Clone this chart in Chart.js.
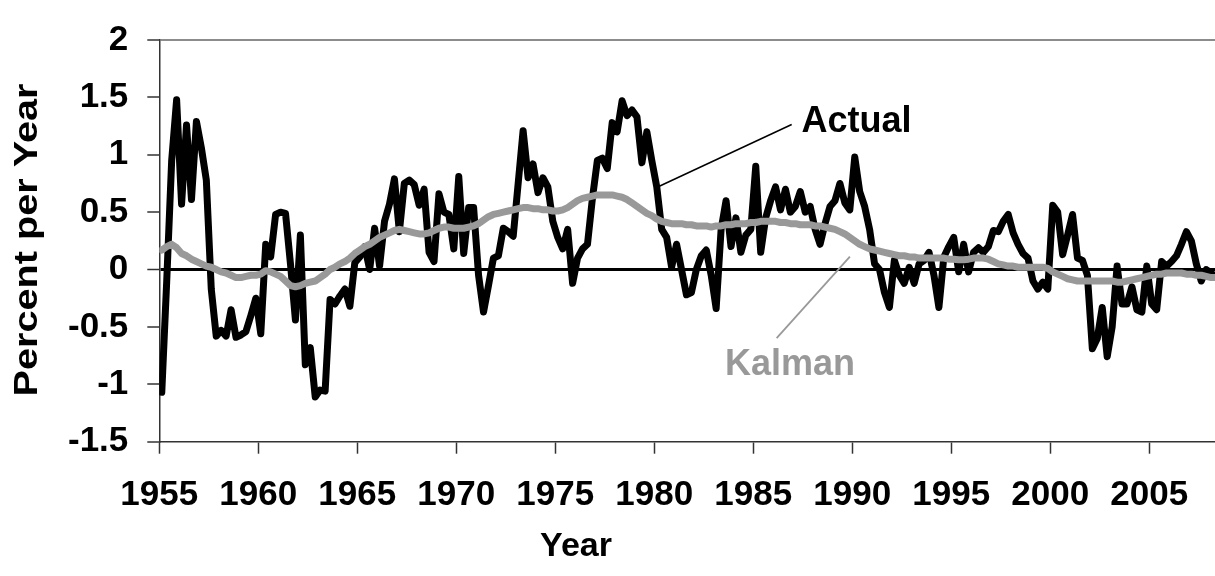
<!DOCTYPE html>
<html>
<head>
<meta charset="utf-8">
<script src="https://cdn.jsdelivr.net/npm/chart.js@4.4.1/dist/chart.umd.min.js"></script>
<style>
  html, body { margin: 0; padding: 0; background: #ffffff; }
  canvas { display: block; }
</style>
</head>
<body>
<canvas id="chart" width="1215" height="576"></canvas>
<script>
// Quarterly series, first quarter of 1955 onward
const firstYear = 1955;
const axisEndYear = 2008.32;

const yearTicks = [1955, 1960, 1965, 1970, 1975, 1980, 1985, 1990, 1995, 2000, 2005];
const valueTicks = [-1.5, -1, -0.5, 0, 0.5, 1, 1.5, 2];

// Actual growth, percent per year
const actual = [
  -1.07, -0.1, 0.95, 1.48, 0.57, 1.26, 0.61, 1.29, 1.06, 0.78, -0.17, -0.58, -0.53, -0.58, -0.35, -0.59, -0.57, -0.54, -0.4, -0.25,
  -0.56, 0.22, 0.11, 0.48, 0.5, 0.49, 0.05, -0.44, 0.3, -0.83, -0.68, -1.11, -1.05, -1.06, -0.26, -0.3, -0.23, -0.17, -0.32, 0.06,
  0.11, 0.2, 0.0, 0.36, 0.03, 0.42, 0.57, 0.79, 0.33, 0.75, 0.78, 0.74, 0.56, 0.7, 0.15, 0.07, 0.66, 0.5, 0.48, 0.18,
  0.81, 0.14, 0.54, 0.54, -0.05, -0.37, -0.14, 0.1, 0.12, 0.36, 0.33, 0.29, 0.75, 1.21, 0.8, 0.92, 0.67, 0.8, 0.72, 0.42,
  0.28, 0.18, 0.35, -0.12, 0.1, 0.18, 0.22, 0.62, 0.95, 0.97, 0.88, 1.28, 1.2, 1.47, 1.34, 1.39, 1.33, 0.93, 1.2, 0.95,
  0.72, 0.35, 0.28, 0.02, 0.22, 0.0, -0.22, -0.2, 0.0, 0.12, 0.17, -0.05, -0.34, 0.35, 0.6, 0.2, 0.45, 0.15, 0.3, 0.35,
  0.9, 0.15, 0.45, 0.6, 0.72, 0.52, 0.7, 0.5, 0.55, 0.68, 0.5, 0.55, 0.35, 0.22, 0.4, 0.55, 0.6, 0.75, 0.58, 0.52,
  0.98, 0.68, 0.55, 0.35, 0.05, 0.0, -0.2, -0.33, 0.08, -0.05, -0.12, 0.02, -0.12, 0.05, 0.08, 0.15, -0.05, -0.33, 0.11, 0.2,
  0.28, -0.02, 0.22, -0.02, 0.15, 0.19, 0.15, 0.2, 0.34, 0.33, 0.42, 0.48, 0.32, 0.22, 0.14, 0.1, -0.1, -0.17, -0.11, -0.17,
  0.56, 0.5, 0.13, 0.3, 0.48, 0.1, 0.08, -0.05, -0.69, -0.6, -0.33, -0.76, -0.5, 0.03, -0.3, -0.3, -0.15, -0.35, -0.37, 0.03,
  -0.3, -0.35, 0.07, 0.03, 0.07, 0.12, 0.22, 0.33, 0.25, 0.05, -0.1, 0.0, -0.03, -0.07
];

// Kalman filter estimate, percent per year
const kalman = [
  0.17, 0.2, 0.22, 0.19, 0.14, 0.12, 0.09, 0.07, 0.05, 0.03, 0.02, 0.0, -0.02, -0.03, -0.05, -0.07, -0.07, -0.06, -0.05, -0.05,
  -0.04, -0.01, -0.02, -0.04, -0.06, -0.1, -0.14, -0.15, -0.14, -0.12, -0.11, -0.1, -0.07, -0.04, 0.0, 0.02, 0.05, 0.07, 0.1, 0.14,
  0.17, 0.2, 0.22, 0.25, 0.28, 0.3, 0.32, 0.34, 0.35, 0.34, 0.33, 0.32, 0.31, 0.31, 0.32, 0.34, 0.36, 0.37, 0.37, 0.36,
  0.36, 0.36, 0.37, 0.38, 0.4, 0.43, 0.46, 0.48, 0.49, 0.5, 0.51, 0.52, 0.53, 0.54, 0.54, 0.53, 0.53, 0.52, 0.52, 0.51,
  0.51, 0.52, 0.54, 0.57, 0.6, 0.62, 0.63, 0.64, 0.65, 0.65, 0.65, 0.65, 0.64, 0.63, 0.61, 0.58, 0.55, 0.52, 0.49, 0.47,
  0.44, 0.42, 0.41, 0.4, 0.4, 0.4, 0.39, 0.39, 0.38, 0.38, 0.38, 0.37, 0.38, 0.38, 0.39, 0.39, 0.4, 0.4, 0.4, 0.41,
  0.41, 0.42, 0.42, 0.42, 0.42, 0.41, 0.41, 0.4, 0.4, 0.39, 0.39, 0.39, 0.38, 0.38, 0.37, 0.36, 0.35, 0.33, 0.31, 0.28,
  0.25, 0.22, 0.2, 0.18, 0.17, 0.16, 0.15, 0.14, 0.13, 0.12, 0.12, 0.11, 0.11, 0.1, 0.1, 0.1, 0.1, 0.1, 0.1, 0.09,
  0.09, 0.085, 0.085, 0.09, 0.1, 0.1, 0.1, 0.09, 0.07, 0.05, 0.04, 0.03, 0.03, 0.02, 0.02, 0.02, 0.02, 0.02, 0.02, 0.01,
  -0.02, -0.04, -0.06, -0.08, -0.09, -0.1, -0.1, -0.1, -0.1, -0.1, -0.1, -0.1, -0.1, -0.11, -0.11, -0.1, -0.09, -0.08, -0.07, -0.06,
  -0.05, -0.04, -0.04, -0.03, -0.03, -0.03, -0.03, -0.04, -0.04, -0.05, -0.05, -0.06, -0.07, -0.07
];

// Each quarter is placed at its midpoint in decimal years
const quarterDates = actual.map((_, i) => firstYear + (i + 0.5) / 4);

// Callout labels with their leader lines, in axis units
const callouts = [
  { text: 'Actual', color: '#000000', at: [1987.44, 1.195], leader: [[1980.28, 0.728], [1986.94, 1.264]], leaderWidth: 1.5 },
  { text: 'Kalman', color: '#999999', at: [1983.57, -0.917], leader: [[1986.18, -0.597], [1989.88, 0.112]], leaderWidth: 1.8 }
];

const FONT = "'Liberation Sans', Arial, Helvetica, sans-serif";
const AXIS_COLOR = '#333333';

const calloutPlugin = {
  id: 'callouts',
  afterDatasetsDraw(chart) {
    const { ctx } = chart;
    const xs = chart.scales.x, ys = chart.scales.y;
    ctx.save();
    ctx.lineCap = 'butt';
    callouts.forEach(c => {
      ctx.strokeStyle = c.color;
      ctx.lineWidth = c.leaderWidth;
      ctx.beginPath();
      ctx.moveTo(xs.getPixelForValue(c.leader[0][0]), ys.getPixelForValue(c.leader[0][1]));
      ctx.lineTo(xs.getPixelForValue(c.leader[1][0]), ys.getPixelForValue(c.leader[1][1]));
      ctx.stroke();
      ctx.fillStyle = c.color;
      ctx.font = 'bold 36px ' + FONT;
      ctx.textAlign = 'left';
      ctx.textBaseline = 'alphabetic';
      ctx.fillText(c.text, xs.getPixelForValue(c.at[0]), ys.getPixelForValue(c.at[1]));
    });
    ctx.restore();
  }
};

// Axis titles
const titlePlugin = {
  id: 'axisTitles',
  afterDraw(chart) {
    const { ctx } = chart;
    ctx.save();
    ctx.fillStyle = '#000000';
    ctx.textBaseline = 'alphabetic';
    ctx.textAlign = 'center';
    ctx.font = 'bold 34px ' + FONT;
    ctx.fillText('Year', 576, 556);

    const label = 'Percent per Year';
    ctx.font = 'bold 33px ' + FONT;
    const w = ctx.measureText(label).width;
    ctx.translate(36.7, 240);
    ctx.rotate(-Math.PI / 2);
    ctx.scale(313 / w, 1);
    ctx.fillText(label, 0, 0);
    ctx.restore();
  }
};

new Chart(document.getElementById('chart'), {
  type: 'line',
  data: {
    datasets: [
      {
        label: 'Kalman',
        data: quarterDates.map((d, i) => ({ x: d, y: kalman[i] })),
        borderColor: '#999999',
        borderWidth: 7,
        pointRadius: 0,
        tension: 0,
        borderJoinStyle: 'round',
        borderCapStyle: 'round',
        order: 0
      },
      {
        label: 'Actual',
        data: quarterDates.map((d, i) => ({ x: d, y: actual[i] })),
        borderColor: '#000000',
        borderWidth: 7,
        pointRadius: 0,
        tension: 0,
        borderJoinStyle: 'round',
        borderCapStyle: 'round',
        order: 1
      }
    ]
  },
  options: {
    responsive: false,
    animation: false,
    devicePixelRatio: 1,
    events: [],
    layout: { padding: { top: 21.7, right: 0, bottom: 0, left: 0 } },
    plugins: {
      legend: { display: false },
      tooltip: { enabled: false },
      title: { display: false }
    },
    scales: {
      x: {
        type: 'linear',
        min: firstYear,
        max: axisEndYear,
        afterBuildTicks: s => { s.ticks = yearTicks.map(v => ({ value: v })); },
        afterFit: s => { s.height = 576 - 441.7; },
        border: { display: true, color: AXIS_COLOR, width: 1.5 },
        grid: {
          drawOnChartArea: false,
          drawTicks: true,
          tickLength: 12,
          tickColor: AXIS_COLOR,
          tickWidth: 1.5
        },
        ticks: {
          autoSkip: false,
          maxRotation: 0,
          padding: 21,
          color: '#000000',
          font: { family: FONT, size: 35, weight: 'bold' },
          callback: v => String(v)
        }
      },
      y: {
        type: 'linear',
        min: -1.5,
        max: 2,
        afterBuildTicks: s => { s.ticks = valueTicks.map(v => ({ value: v })); },
        afterFit: s => { s.width = 159.3; },
        border: { display: true, color: AXIS_COLOR, width: 1.5 },
        grid: {
          drawOnChartArea: true,
          drawTicks: true,
          tickLength: 12,
          tickColor: AXIS_COLOR,
          tickWidth: 1.5,
          color: c => c.tick && c.tick.value === 0 ? '#000000' : (c.tick && c.tick.value === 2 ? '#8c8c8c' : 'rgba(0,0,0,0)'),
          lineWidth: c => c.tick && c.tick.value === 0 ? 3 : 2
        },
        ticks: {
          padding: 19,
          color: '#000000',
          font: { family: FONT, size: 35, weight: 'bold', lineHeight: 1.2 },
          callback: v => String(v)
        }
      }
    }
  },
  plugins: [calloutPlugin, titlePlugin]
});
</script>
</body>
</html>
